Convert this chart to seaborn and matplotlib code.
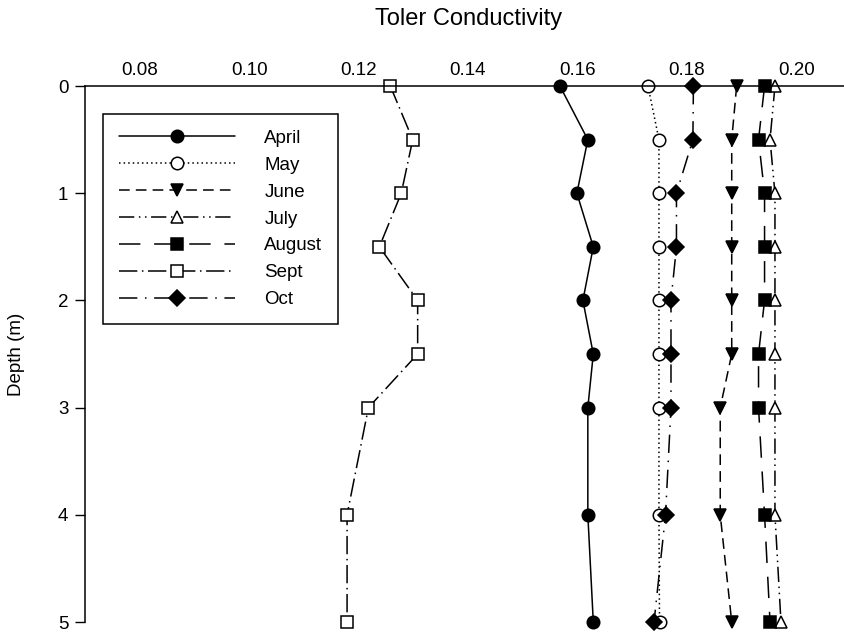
import pandas as pd
import matplotlib
matplotlib.use('Agg')
import matplotlib.pyplot as plt
import seaborn as sns

# depths (m)
depth = [0, 0.5, 1, 1.5, 2, 2.5, 3, 4, 5]

# conductivity per month
april = [0.1568, 0.1619, 0.1599, 0.1629, 0.1610, 0.1629, 0.1619, 0.1619, 0.1629]
may = [0.1729, 0.1749, 0.1749, 0.1749, 0.1749, 0.1749, 0.1749, 0.1749, 0.1750]
june = [0.1891, 0.1882, 0.1882, 0.1882, 0.1882, 0.1882, 0.1861, 0.1861, 0.1882]
july = [0.1961, 0.1952, 0.1961, 0.1961, 0.1961, 0.1961, 0.1961, 0.1961, 0.1972]
august = [0.1942, 0.1931, 0.1942, 0.1942, 0.1942, 0.1931, 0.1931, 0.1942, 0.1952]
sept = [0.1258, 0.1299, 0.1278, 0.1238, 0.1308, 0.1308, 0.1218, 0.1179, 0.1179]
octo = [0.1812, 0.1811, 0.1781, 0.1781, 0.1771, 0.1771, 0.1771, 0.1761, 0.1740]

months = ['April', 'May', 'June', 'July', 'August', 'Sept', 'Oct']
values = [april, may, june, july, august, sept, octo]

x_ticks = [0.08, 0.10, 0.12, 0.14, 0.16, 0.18, 0.20]
y_ticks = [0, 1, 2, 3, 4, 5]

# styles: marker, facecolor, linestyle
styles = {
    'April': ('o', 'black', '-'),
    'May': ('o', 'white', (0, (1, 2))),
    'June': ('v', 'black', (0, (7, 4))),
    'July': ('^', 'white', (0, (10, 3, 1, 3, 1, 3))),
    'August': ('s', 'black', (0, (14, 9))),
    'Sept': ('s', 'white', (0, (12, 3, 1, 3))),
    'Oct': ('D', 'black', (0, (12, 5, 1, 5))),
}

df = pd.concat([pd.DataFrame({'month': m, 'depth': depth, 'cond': v})
                for m, v in zip(months, values)], ignore_index=True)

sns.set_style('white')
plt.rcParams['font.family'] = ['Liberation Sans', 'DejaVu Sans']
plt.rcParams['text.color'] = 'black'
plt.rcParams['axes.labelcolor'] = 'black'
plt.rcParams['xtick.color'] = 'black'
plt.rcParams['ytick.color'] = 'black'

fig = plt.figure(figsize=(8.44, 6.34), dpi=100)
ax = fig.add_axes([0.1007, 0.0189, 0.9076, 0.8454])

for m in months:
    mk, fc, ls = styles[m]
    ms = 8 if mk == 'D' else 9
    sub = df[df['month'] == m]
    sns.lineplot(data=sub, x='cond', y='depth', orient='y', estimator=None,
                 color='black', linestyle=ls, linewidth=1.1,
                 marker=mk, markersize=ms, markerfacecolor=fc,
                 markeredgecolor='black', markeredgewidth=1.1,
                 label=m, clip_on=False, ax=ax)

ax.set_xlim(0.07, 0.21)
ax.set_ylim(5, 0)
ax.set_xticks(x_ticks)
ax.set_xticklabels([f'{t:.2f}' for t in x_ticks])
ax.set_yticks(y_ticks)
ax.xaxis.tick_top()
ax.tick_params(axis='x', length=0, pad=5, labelsize=13.5)
ax.tick_params(axis='y', direction='out', length=7, width=1, pad=5,
               labelsize=13.5, left=True, color='black')
ax.spines['bottom'].set_visible(False)
ax.spines['right'].set_visible(False)
for s in ['top', 'left']:
    ax.spines[s].set_color('black')
    ax.spines[s].set_linewidth(1.1)
ax.set_xlabel('')
ax.set_ylabel('Depth (m)', fontsize=13.5)
ax.yaxis.set_label_coords(-0.078, 0.5)

leg = ax.legend(loc='upper left', bbox_to_anchor=(0.0235, 0.948),
                borderaxespad=0, fancybox=False, edgecolor='black',
                framealpha=1, fontsize=13.5, handlelength=6.2,
                handletextpad=1.55, labelspacing=0.52, borderpad=0.85,
                numpoints=1)
leg.get_frame().set_linewidth(1.1)

fig.text(469 / 844, 1 - 19 / 634, 'Toler Conductivity', ha='center',
         va='center', fontsize=17)

fig.savefig('out.png', dpi=100)
